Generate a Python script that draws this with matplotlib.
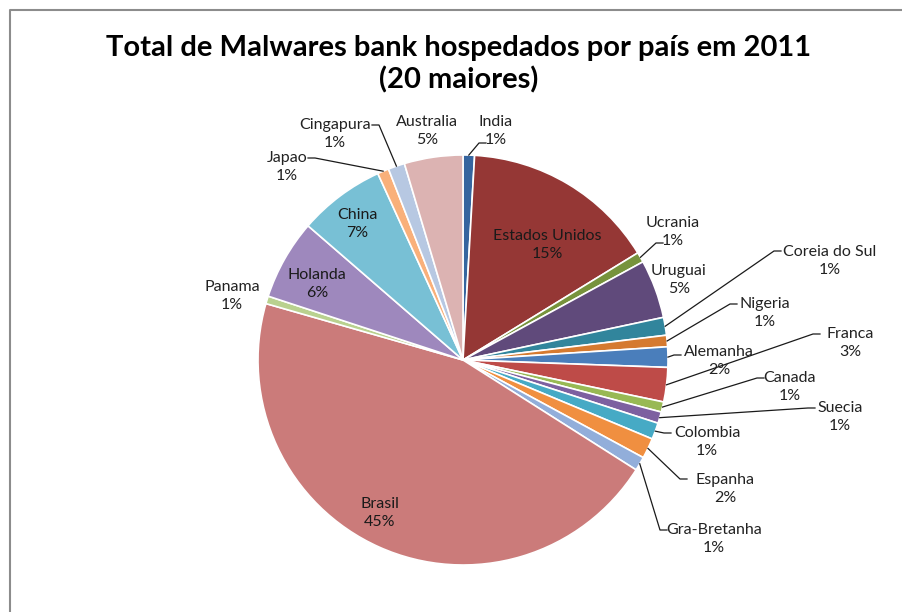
import matplotlib
matplotlib.use("Agg")
import matplotlib.pyplot as plt
import numpy as np

# Dados (percentuais estimados a partir do gráfico original)
paises = ["India", "Estados Unidos", "Ucrania", "Uruguai", "Coreia do Sul", "Nigeria",
          "Alemanha", "Franca", "Canada", "Suecia", "Colombia", "Espanha", "Gra-Bretanha",
          "Brasil", "Panama", "Holanda", "China", "Japao", "Cingapura", "Australia"]
valores = [0.9, 15.3, 0.8, 4.6, 1.4, 0.9, 1.6, 2.7, 0.8, 0.9, 1.3, 1.6, 1.1,
           45.3, 0.6, 6.3, 6.8, 0.9, 1.3, 4.6]
cores = ["#36659F", "#953735", "#77933C", "#604A7B", "#31859C", "#D57A30",
         "#4A7EBB", "#BE4B48", "#98B954", "#7D60A0", "#46AAC5", "#F08F40", "#92AEDA",
         "#CB7B7A", "#B9D18F", "#9E88BD", "#78C0D5", "#F9B07A", "#B7C8E2", "#DCB3B2"]

# posição dos rótulos (pixels da imagem, centro do bloco de texto)
pos_rotulo = {
    "India": (496, 131), "Australia": (427, 131), "Cingapura": (335, 134),
    "Japao": (287, 167), "China": (357, 224), "Holanda": (317, 284),
    "Panama": (232, 296), "Estados Unidos": (547, 245), "Ucrania": (673, 232),
    "Uruguai": (679, 280), "Coreia do Sul": (830, 261), "Nigeria": (765, 313),
    "Alemanha": (719, 361), "Franca": (850, 343), "Canada": (790, 387),
    "Suecia": (840, 417), "Colombia": (707, 442), "Espanha": (725, 489),
    "Gra-Bretanha": (714, 539), "Brasil": (380, 513),
}
# ponto onde a linha guia encosta no rótulo, e lado (+1 rótulo à direita)
guias = {
    "India": (486, 143, 1), "Cingapura": (372, 125, -1), "Japao": (308, 158, -1),
    "Ucrania": (663, 243, 1), "Coreia do Sul": (781, 251, 1), "Nigeria": (737, 304, 1),
    "Alemanha": (681, 355, 1), "Franca": (820, 334, 1), "Canada": (764, 378, 1),
    "Suecia": (815, 408, 1), "Colombia": (671, 433, 1), "Espanha": (687, 479, 1),
    "Gra-Bretanha": (667, 530, 1),
}
dentro = ["China", "Holanda", "Estados Unidos", "Brasil"]

W, H = 902, 612
fig = plt.figure(figsize=(W / 100, H / 100), dpi=100)
ax = fig.add_axes([0, 0, 1, 1])

cx, cy, r = 463, H - 360, 205
fonte = "Lato"

wedges, _ = ax.pie(valores, colors=cores, startangle=90, counterclock=False,
                   center=(cx, cy), radius=r, frame=True,
                   wedgeprops=dict(edgecolor="white", linewidth=1.2))
ax.set_xlim(0, W)
ax.set_ylim(0, H)
ax.set_aspect("equal")
ax.axis("off")

total = sum(valores)
for nome, v, w in zip(paises, valores, wedges):
    x, y = pos_rotulo[nome]
    txt = f"{nome}\n{round(v / total * 100)}%"
    cor = "#1a1a1a" if nome in dentro else "#222222"
    ax.text(x, H - y, txt, ha="center", va="center", fontsize=11.5, family=fonte,
            color=cor, linespacing=1.3)
    if nome in guias:
        gx, gy, lado = guias[nome]
        ang = np.deg2rad((w.theta1 + w.theta2) / 2)
        ex, ey = cx + r * np.cos(ang), cy + r * np.sin(ang)
        ax.plot([ex, gx - 7 * lado, gx], [ey, H - gy, H - gy], color="#1a1a1a", lw=0.9)

# título
fig.text(0.5 + 8 / W, 1 - 48 / H, "Total de Malwares bank hospedados por país em 2011",
         ha="center", va="center", fontsize=21, fontweight="bold", family=fonte)
fig.text(0.5 + 8 / W, 1 - 80 / H, "(20 maiores)",
         ha="center", va="center", fontsize=21, fontweight="bold", family=fonte)

# moldura
ax.plot([10, 10, W], [0, H - 10, H - 10], color="#8c8c8c", lw=1.5)

fig.savefig("out.png", dpi=100)
